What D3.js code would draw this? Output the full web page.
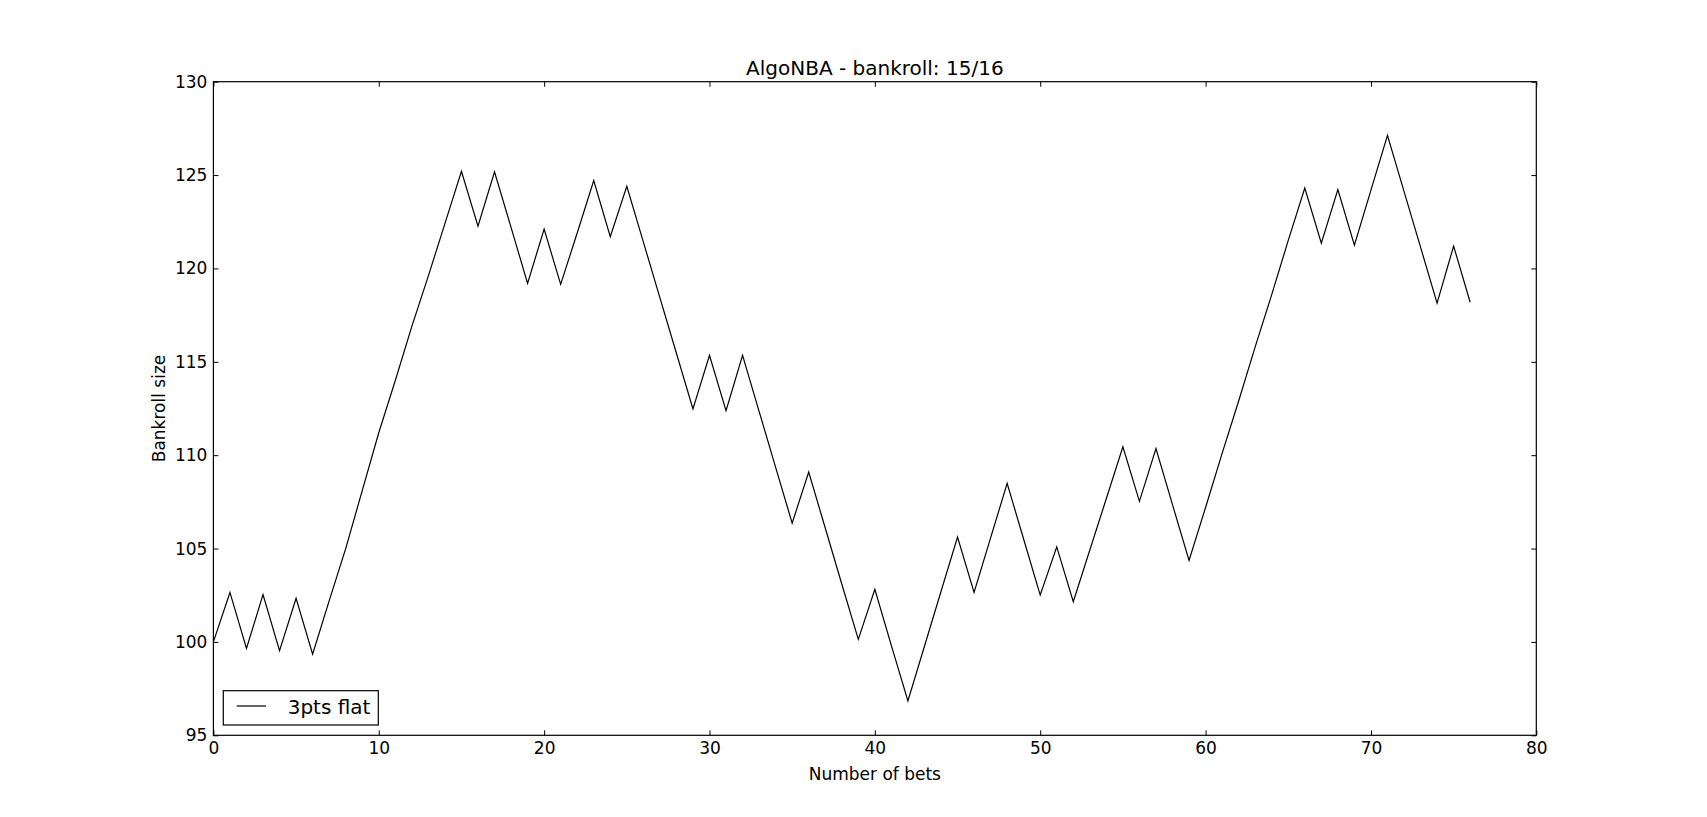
<!DOCTYPE html>
<html>
<head>
<meta charset="utf-8">
<script src="https://cdn.jsdelivr.net/npm/d3@7"></script>
<style>
  html, body { margin: 0; padding: 0; background: #fff; }
  svg { display: block; font-family: "DejaVu Sans", sans-serif; }
</style>
</head>
<body>
<svg id="chart" width="1707" height="817"></svg>
<script>
// ---- data ----
const chartTitle = "AlgoNBA - bankroll: 15/16";
const xLabel = "Number of bets";
const yLabel = "Bankroll size";
const seriesName = "3pts flat";
const bankroll = [
  100.0, 102.65, 99.65, 102.53, 99.53, 102.34, 99.34, 102.2, 105.0, 108.1,
  111.2, 114.0, 116.9, 119.6, 122.4, 125.2, 122.26, 125.17, 122.2, 119.2,
  122.11, 119.15, 121.9, 124.7, 121.7, 124.4, 121.42, 118.44, 115.46, 112.48,
  115.35, 112.38, 115.35, 112.35, 109.35, 106.36, 109.1, 106.1, 103.1, 100.14,
  102.82, 99.8, 96.84, 99.77, 102.7, 105.62, 102.65, 105.57, 108.49, 105.5,
  102.51, 105.09, 102.15, 104.92, 107.68, 110.45, 107.53, 110.35, 107.35, 104.37,
  107.2, 110.1, 112.9, 115.8, 118.6, 121.5, 124.31, 121.35, 124.22, 121.25,
  124.19, 127.13, 124.13, 121.14, 118.14, 121.2, 118.19
];
const xTicks = [0, 10, 20, 30, 40, 50, 60, 70, 80];
const yTicks = [95, 100, 105, 110, 115, 120, 125, 130];
const xDomain = [0, 80];
const yDomain = [95, 130];

// ---- layout ----
const M = { left: 213.4, right: 1536.3, top: 81.7, bottom: 735.3 };

const svg = d3.select("#chart");
const x = d3.scaleLinear().domain(xDomain).range([M.left, M.right]);
const y = d3.scaleLinear().domain(yDomain).range([M.bottom, M.top]);

const tickLen = 5;
const fontSize = 17;

const gx = svg.append("g").attr("transform", `translate(0,${M.bottom})`)
  .call(d3.axisBottom(x).tickValues(xTicks).tickFormat(d3.format("d"))
    .tickSizeInner(-tickLen).tickSizeOuter(0).tickPadding(7));
const gxt = svg.append("g").attr("transform", `translate(0,${M.top})`)
  .call(d3.axisTop(x).tickValues(xTicks).tickFormat("")
    .tickSizeInner(-tickLen).tickSizeOuter(0));
const gy = svg.append("g").attr("transform", `translate(${M.left},0)`)
  .call(d3.axisLeft(y).tickValues(yTicks).tickFormat(d3.format("d"))
    .tickSizeInner(-tickLen).tickSizeOuter(0).tickPadding(6));
const gyr = svg.append("g").attr("transform", `translate(${M.right},0)`)
  .call(d3.axisRight(y).tickValues(yTicks).tickFormat("")
    .tickSizeInner(-tickLen).tickSizeOuter(0));

[gx, gxt, gy, gyr].forEach(g => {
  g.select(".domain").remove();
  g.selectAll(".tick line").attr("stroke", "#000").attr("stroke-width", 1);
  g.selectAll(".tick text").attr("fill", "#000")
    .style("font-family", "'DejaVu Sans', sans-serif").style("font-size", fontSize + "px");
});

const line = d3.line()
  .x((d, i) => x(i))
  .y(d => y(d));
svg.append("path")
  .datum(bankroll)
  .attr("fill", "none")
  .attr("stroke", "#000")
  .attr("stroke-width", 1.2)
  .attr("stroke-linejoin", "miter")
  .attr("d", line);

svg.append("rect")
  .attr("x", M.left).attr("y", M.top)
  .attr("width", M.right - M.left).attr("height", M.bottom - M.top)
  .attr("fill", "none").attr("stroke", "#000").attr("stroke-width", 1.2);

svg.append("text")
  .attr("x", (M.left + M.right) / 2).attr("y", M.top - 7)
  .attr("text-anchor", "middle")
  .style("font-size", "20px").attr("fill", "#000")
  .text(chartTitle);

svg.append("text")
  .attr("x", (M.left + M.right) / 2).attr("y", 780)
  .attr("text-anchor", "middle")
  .style("font-size", fontSize + "px").attr("fill", "#000")
  .text(xLabel);

svg.append("text")
  .attr("transform", `translate(159,${(M.top + M.bottom) / 2}) rotate(-90)`)
  .attr("text-anchor", "middle")
  .attr("dy", "0.35em")
  .style("font-size", fontSize + "px").attr("fill", "#000")
  .text(yLabel);

const lg = svg.append("g");
lg.append("rect")
  .attr("x", 223.3).attr("y", 690.7)
  .attr("width", 155).attr("height", 34.3)
  .attr("fill", "#fff").attr("stroke", "#000").attr("stroke-width", 1.2);
lg.append("line")
  .attr("x1", 236.7).attr("x2", 266).attr("y1", 706).attr("y2", 706)
  .attr("stroke", "#000").attr("stroke-width", 1.2);
lg.append("text")
  .attr("x", 287.7).attr("y", 714.3)
  .style("font-size", "20px").attr("fill", "#000")
  .text(seriesName);
</script>
</body>
</html>
